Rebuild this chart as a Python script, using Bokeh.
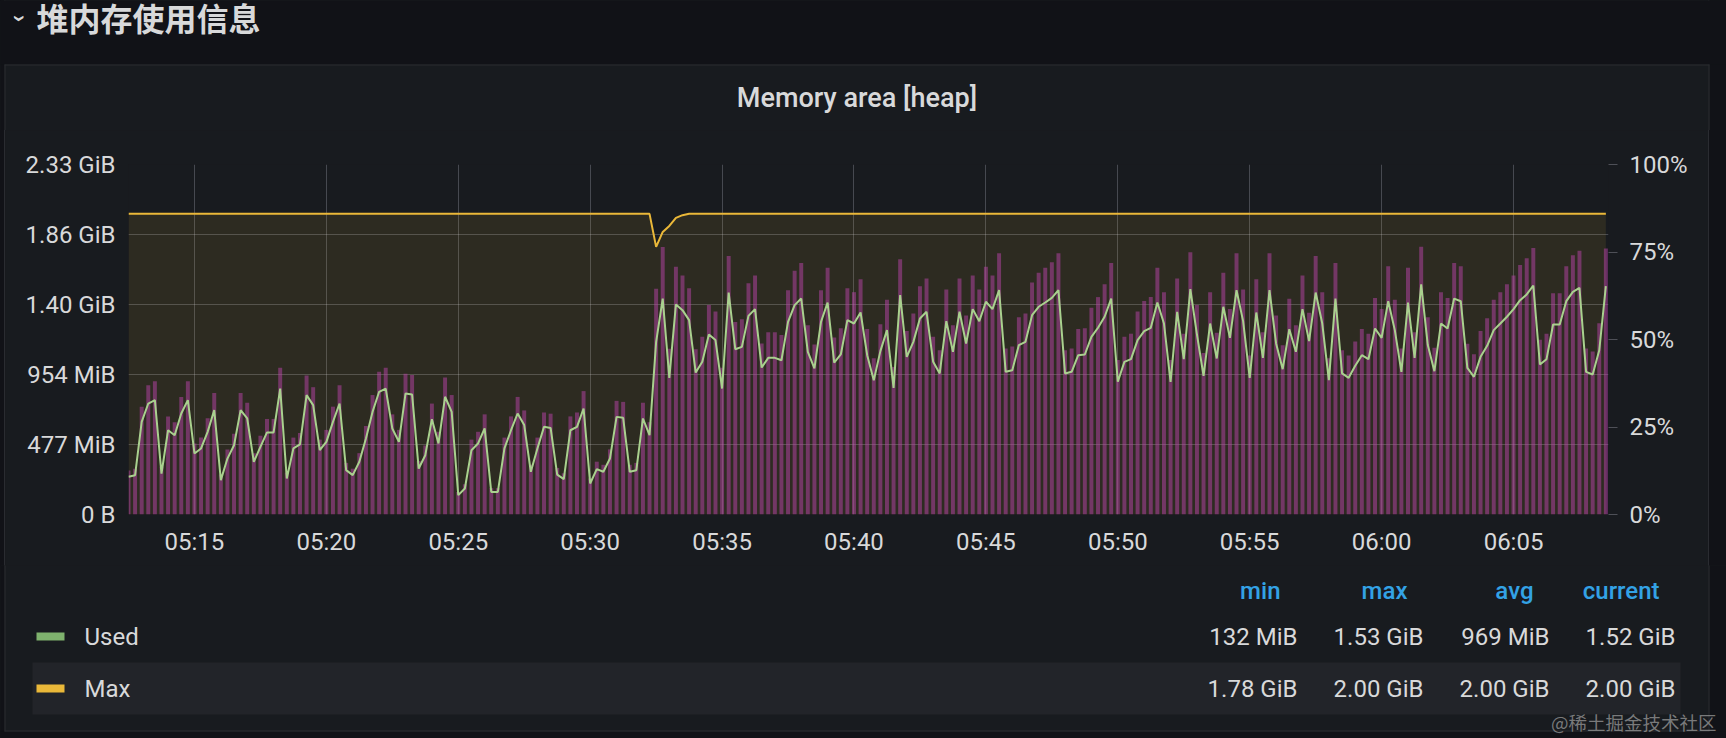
from datetime import datetime, timedelta, time

from bokeh.plotting import figure
from bokeh.layouts import column, row
from bokeh.models import (Range1d, LinearAxis, FixedTicker, DatetimeTickFormatter,
                          PrintfTickFormatter, ColumnDataSource)
from bokeh.core.properties import value
from bokeh.embed import file_html
from bokeh.resources import INLINE

# ---------------- data ----------------
day = datetime(2022, 6, 1)
first_sample = datetime(2022, 6, 1, 5, 12, 30)
step_seconds = 15

used_mib = [
    257, 268, 631, 756, 779, 279, 574, 540, 688, 779,
    416, 450, 563, 711, 234, 381, 472, 711, 654, 359,
    461, 559, 559, 858, 245, 450, 477, 813, 745, 438,
    495, 631, 756, 302, 268, 359, 518, 699, 836, 858,
    586, 495, 824, 817, 313, 404, 649, 484, 802, 699,
    132, 177, 438, 484, 586, 154, 154, 450, 574, 688,
    609, 291, 450, 597, 590, 272, 241, 574, 597, 722,
    211, 309, 291, 381, 665, 659, 291, 302, 654, 540,
    1176, 1471, 931, 1431, 1392, 1324, 967, 1040, 1226, 1188,
    858, 1512, 1126, 1142, 1353, 1399, 1001, 1067, 1067, 1051,
    1312, 1426, 1471, 1108, 995, 1312, 1444, 1035, 1090, 1324,
    1301, 1376, 1085, 915, 1113, 1256, 863, 1494, 1074, 1176,
    1335, 1381, 1040, 961, 1317, 1108, 1381, 1165, 1399, 1317,
    1449, 1399, 1528, 972, 983, 1154, 1176, 1358, 1415, 1444,
    1476, 1528, 961, 972, 1085, 1090, 1210, 1272, 1347, 1471,
    904, 1040, 1058, 1188, 1249, 1272, 1444, 1301, 904, 1381,
    1058, 1535, 1226, 945, 1301, 1063, 1415, 1203, 1528, 1317,
    931, 1376, 1067, 1528, 1165, 990, 1262, 1108, 1399, 1181,
    1512, 1301, 915, 1471, 961, 931, 1013, 1085, 1058, 1267,
    1203, 1453, 1256, 972, 1444, 1067, 1567, 1154, 976, 1301,
    1267, 1471, 1453, 999, 938, 1074, 1149, 1256, 1301, 1347,
    1399, 1460, 1499, 1560, 1022, 1058, 1294, 1294, 1453, 1517,
    1544, 972, 954, 1119, 1556,
]
max_mib = [2048] * 80 + [1823, 1925, 1966, 2021, 2039] + [2048] * 140

left_ticks_bytes = [0, 500000000, 1000000000, 1500000000, 2000000000, 2500000000]
left_tick_labels = ["0 B", "477 MiB", "954 MiB", "1.40 GiB", "1.86 GiB", "2.33 GiB"]
right_ticks_pct = [0, 25, 50, 75, 100]
x_tick_labels = ["05:15", "05:20", "05:25", "05:30", "05:35", "05:40",
                 "05:45", "05:50", "05:55", "06:00", "06:05"]

section_title = "堆内存使用信息"
panel_title = "Memory area [heap]"
legend_series = ["Used", "Max"]
legend_colors = ["#7EB26D", "#EAB839"]
legend_headers = ["min", "max", "avg", "current"]
legend_values = [["132 MiB", "1.53 GiB", "969 MiB", "1.52 GiB"],
                 ["1.78 GiB", "2.00 GiB", "2.00 GiB", "2.00 GiB"]]
watermark = "@稀土掘金技术社区"

# ---------------- derived columns ----------------
MIB = 1048576
times = [first_sample + timedelta(seconds=step_seconds * i) for i in range(len(used_mib))]
used_b = [u * MIB for u in used_mib]
max_b = [m * MIB for m in max_mib]
pct = [100.0 * u / m for u, m in zip(used_mib, max_mib)]
src = ColumnDataSource(dict(t=times, used=used_b, mx=max_b, pct=pct, zero=[0] * len(times)))

EPOCH = datetime(1970, 1, 1)
def ms(dt):
    return (dt - EPOCH).total_seconds() * 1000.0

x_ticks = [ms(datetime.combine(day.date(), time.fromisoformat(s))) for s in x_tick_labels]

# ---------------- style constants ----------------
PAGE_BG = "#111217"
PANEL_BG = "#181b1f"
PANEL_LINE = "#2a2c31"
TXT = "#d8d9da"
FONT = "Roboto"
FONT_MED = "Roboto Medium"
CJK = "Noto Sans CJK SC"
TOTAL_W = 1726
PANEL_L, PANEL_R = 5, 1708
PANEL_T, PANEL_B = 65, 730
HEAD_H = 130          # header strip (section title + panel title)
MAIN_H = 435          # chart area
LEG_H = 738 - HEAD_H - MAIN_H


def blank(h, y_top, y_bottom):
    f = figure(width=TOTAL_W, height=h, x_range=Range1d(0, TOTAL_W), y_range=Range1d(y_bottom, y_top),
               x_axis_location=None, y_axis_location=None,
               output_backend="svg", toolbar_location=None,
               min_border_left=0, min_border_right=0, min_border_top=0, min_border_bottom=0)
    f.grid.visible = False
    f.outline_line_color = None
    f.background_fill_color = PANEL_BG
    f.border_fill_color = PANEL_BG
    # page background outside the panel, and the panel's 1px edge
    y_a, y_b = y_top - 20, y_bottom + 20
    f.quad(left=[-20, PANEL_R + 1], right=[PANEL_L - 1, TOTAL_W + 20], top=[y_a, y_a], bottom=[y_b, y_b],
           fill_color=PAGE_BG, line_color=None)
    f.quad(left=[PANEL_L - 1, PANEL_R], right=[PANEL_L, PANEL_R + 1], top=[y_a, y_a], bottom=[y_b, y_b],
           fill_color=PANEL_LINE, line_color=None)
    return f


# ---------------- header ----------------
head = blank(HEAD_H, 0, HEAD_H)
head.quad(left=[-20], right=[TOTAL_W + 20], top=[-20], bottom=[PANEL_T - 1],
          fill_color=PAGE_BG, line_color=None)
head.quad(left=[PANEL_L - 1], right=[PANEL_R + 1], top=[PANEL_T - 1], bottom=[PANEL_T],
          fill_color=PANEL_LINE, line_color=None)
head.text(x=[36], y=[16.5], text=[section_title], text_font=value(CJK), text_font_style="bold",
          text_font_size="32px", text_color=TXT, text_baseline="middle", text_align="left")
head.text(x=[19], y=[18], text=["›"], angle=-1.5708, text_font=value(FONT), text_font_style="bold",
          text_font_size="24px", text_color=TXT, text_baseline="middle", text_align="center")
head.text(x=[(PANEL_L + PANEL_R) / 2], y=[97], text=[panel_title], text_font=value(FONT_MED),
          text_font_size="27px", text_color=TXT, text_baseline="middle", text_align="center")

# ---------------- main chart ----------------
x_start = first_sample
x_end = first_sample + timedelta(seconds=3366)
MAIN_W = PANEL_R - PANEL_L

p = figure(width=MAIN_W, height=MAIN_H, x_axis_type="datetime",
           x_range=Range1d(x_start, x_end), y_range=Range1d(0, 2500000000),
           output_backend="svg", toolbar_location=None,
           min_border_left=123, min_border_right=100, min_border_top=34, min_border_bottom=51,
           margin=(0, 0, 0, PANEL_L),
           styles={"box-shadow": f"-1px 0 0 {PANEL_LINE}, 1px 0 0 {PANEL_LINE}"})
p.extra_y_ranges = {"pct": Range1d(0, 100)}
p.background_fill_color = PANEL_BG
p.border_fill_color = PANEL_BG
p.outline_line_color = None

xt = FixedTicker(ticks=x_ticks)
yt = FixedTicker(ticks=left_ticks_bytes)
p.xaxis.ticker = xt
p.xgrid.ticker = xt
p.yaxis.ticker = yt
p.ygrid.ticker = yt
for g in (p.xgrid, p.ygrid):
    g.grid_line_color = "#ccccdc"
    g.grid_line_alpha = 0.26
    g.grid_line_width = 1

p.varea(x="t", y1="zero", y2="mx", source=src, fill_color="#EAB839", fill_alpha=0.1)
p.vbar(x="t", top="pct", width=9000, source=src, y_range_name="pct",
       fill_color="#BA43A9", fill_alpha=0.5, line_color=None)
p.line(x="t", y="used", source=src, line_color="#a9d18e", line_width=2)
p.line(x="t", y="mx", source=src, line_color="#EAB839", line_width=2)

p.xaxis.formatter = DatetimeTickFormatter(minutes="%H:%M", hourmin="%H:%M", hours="%H:%M",
                                          minsec="%H:%M", seconds="%H:%M")
for ax in (p.xaxis[0], p.yaxis[0]):
    ax.axis_line_color = None
    ax.major_tick_line_color = None
    ax.minor_tick_line_color = None
    ax.major_tick_out = 0
    ax.minor_tick_out = 0
    ax.major_label_text_font = FONT
    ax.major_label_text_font_size = "24px"
    ax.major_label_text_color = TXT
p.yaxis.major_label_overrides = dict(zip(left_ticks_bytes, left_tick_labels))
p.yaxis.major_label_standoff = 13
p.xaxis.major_label_standoff = 13

rax = LinearAxis(y_range_name="pct", ticker=FixedTicker(ticks=right_ticks_pct),
                 formatter=PrintfTickFormatter(format="%d%%"))
rax.axis_line_color = None
rax.minor_tick_line_color = None
rax.major_tick_line_color = "#ccccdc"
rax.major_tick_line_alpha = 0.3
rax.major_tick_in = 0
rax.major_tick_out = 9
rax.major_label_standoff = 12
rax.major_label_text_font = FONT
rax.major_label_text_font_size = "24px"
rax.major_label_text_color = TXT
p.add_layout(rax, "right")

# ---------------- legend table ----------------
y0 = HEAD_H + MAIN_H
leg = blank(LEG_H, y0, 738)
leg.quad(left=[-20], right=[TOTAL_W + 20], top=[PANEL_B + 1], bottom=[760],
         fill_color=PAGE_BG, line_color=None)
leg.quad(left=[PANEL_L - 1], right=[PANEL_R + 1], top=[PANEL_B], bottom=[PANEL_B + 1],
         fill_color=PANEL_LINE, line_color=None)
leg.quad(left=[32], right=[1680], top=[662], bottom=[714], fill_color="#222429", line_color=None)

header_right = [1280, 1407, 1533, 1659]
value_right = [1297, 1423, 1549, 1675]
row_y = [636, 688]

leg.text(x=header_right, y=[590] * len(legend_headers), text=legend_headers, text_font=value(FONT_MED),
         text_font_size="24px", text_color="#33A2E5",
         text_baseline="middle", text_align="right")
leg.quad(left=[36, 36], right=[64, 64], top=[y - 4 for y in row_y], bottom=[y + 4 for y in row_y],
         fill_color=legend_colors, line_color=None)
leg.text(x=[84, 84], y=row_y, text=legend_series, text_font=value(FONT), text_font_size="24px",
         text_color=TXT, text_baseline="middle", text_align="left")
vx, vy, vt = [], [], []
for r, vals in enumerate(legend_values):
    for c, v in enumerate(vals):
        vx.append(value_right[c]); vy.append(row_y[r]); vt.append(v)
leg.text(x=vx, y=vy, text=vt, text_font=value(FONT), text_font_size="24px",
         text_color=TXT, text_baseline="middle", text_align="right")
leg.text(x=[1716], y=[721], text=[watermark], text_font=value(CJK), text_font_size="18.5px",
         text_color="#9a9a9a", text_alpha=0.75, text_baseline="middle", text_align="right")

bg_gradient = (f"linear-gradient(to right, {PAGE_BG} 0px, {PAGE_BG} {PANEL_L - 1}px, "
               f"{PANEL_LINE} {PANEL_L - 1}px, {PANEL_LINE} {PANEL_L}px, "
               f"{PANEL_BG} {PANEL_L}px, {PANEL_BG} {PANEL_R}px, "
               f"{PANEL_LINE} {PANEL_R}px, {PANEL_LINE} {PANEL_R + 1}px, "
               f"{PAGE_BG} {PANEL_R + 1}px, {PAGE_BG} 100%)")
layout = column(row(head), row(p), row(leg), spacing=0,
                styles={"background-color": PAGE_BG, "background-image": bg_gradient})
open("out.html", "w").write(file_html(layout, INLINE))
